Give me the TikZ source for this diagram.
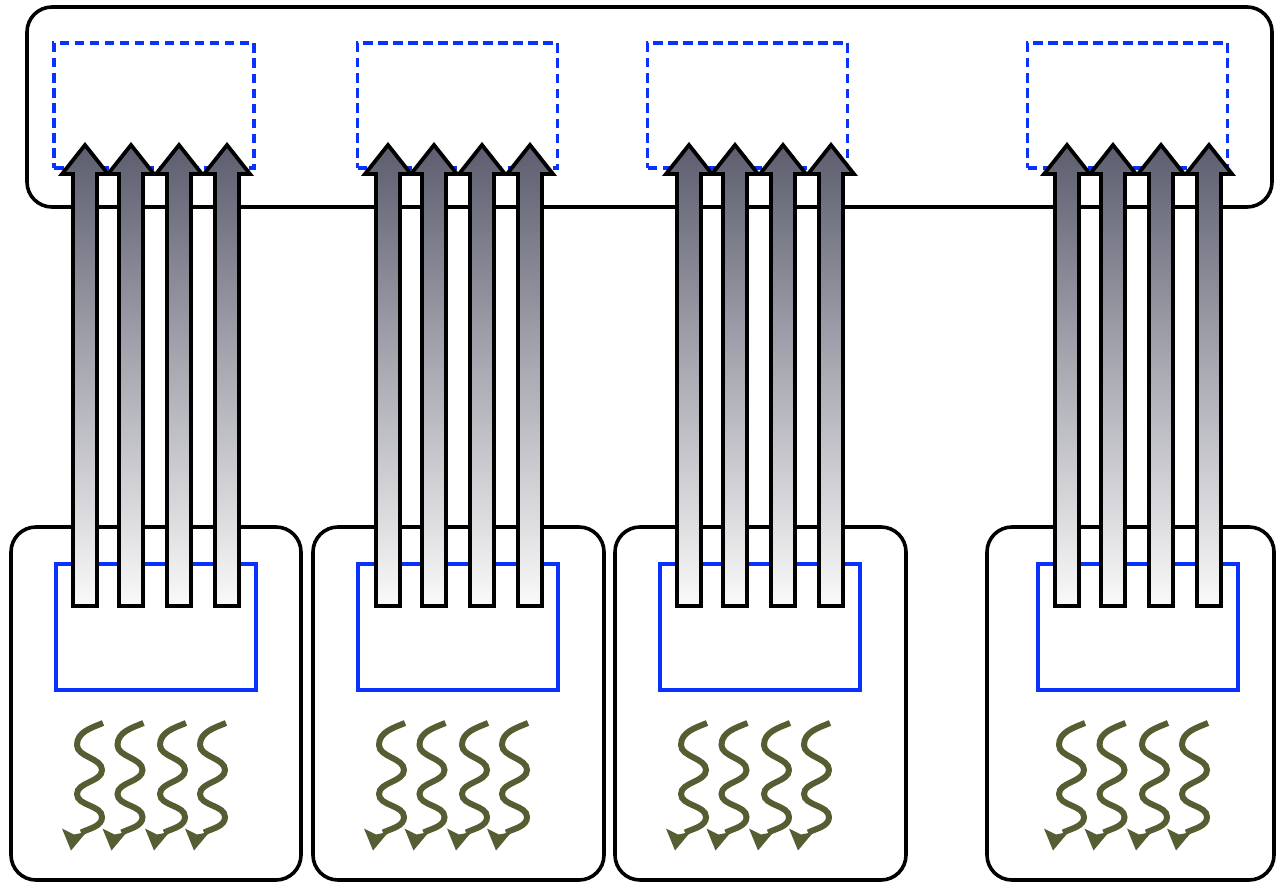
\documentclass[tikz,border=0pt]{standalone}
\definecolor{blueln}{RGB}{10,50,255}
\definecolor{olivel}{RGB}{85,94,50}
\definecolor{arrtop}{RGB}{92,93,110}
\definecolor{arrbot}{RGB}{250,250,250}
\tikzset{
  container/.style={draw=black, line width=3.6pt, rounded corners=25pt, inner sep=0pt, outer sep=0pt},
  dashbox/.style={draw=blueln, line width=3.6pt, dash pattern=on 9.5pt off 5.5pt, inner sep=0pt, outer sep=0pt, minimum width=200pt, minimum height=125pt},
  solidbox/.style={draw=blueln, line width=3.6pt, inner sep=0pt, outer sep=0pt, minimum width=200pt, minimum height=126pt},
  bigarrow/.pic={
    \draw[line width=3.8pt, top color=arrtop, bottom color=arrbot, miter limit=10]
      (-12,606) -- (-12,174) -- (-23,174) -- (0,145) -- (23,174) -- (12,174) -- (12,606) -- cycle;
  },
  squig/.pic={
    \draw[olivel, line width=6pt] (0,0) .. controls (-12,5) and (-26,9) .. (-26,22)
      .. controls (-26,34) and (-1,35) .. (-1,47)
      .. controls (-1,59) and (-26,59) .. (-26,71)
      .. controls (-26,83) and (-1,82) .. (-1,94)
      .. controls (-1,103) and (-12,105) .. (-22,109.5);
    \fill[olivel] (-41,105.5) -- (-32,127.5) -- (-16.5,109) -- (-29,111.5) -- cycle;
  }
}
\begin{document}
\begin{tikzpicture}[x=1pt,y=-1pt, line join=miter]
\useasboundingbox (0,0) rectangle (1276,883);
% top container
\node[container, minimum width=1245pt, minimum height=200pt] (top) at (649.5,107) {};
% dashed target boxes
\node[dashbox] (d1) at (154,105.5) {};
\node[dashbox] (d2) at (457.5,105.5) {};
\node[dashbox] (d3) at (747.5,105.5) {};
\node[dashbox] (d4) at (1127.5,105.5) {};
% bottom containers
\node[container, minimum width=290pt, minimum height=353pt] (b1) at (156,703.5) {};
\node[container, minimum width=291pt, minimum height=353pt] (b2) at (458.5,703.5) {};
\node[container, minimum width=291pt, minimum height=353pt] (b3) at (760.5,703.5) {};
\node[container, minimum width=287pt, minimum height=353pt] (b4) at (1130.5,703.5) {};
% solid blue boxes
\node[solidbox] (s1) at (156,627) {};
\node[solidbox] (s2) at (458,627) {};
\node[solidbox] (s3) at (760,627) {};
\node[solidbox] (s4) at (1138,627) {};
% big arrows
\foreach \g/\gx in {1/85, 2/388, 3/689, 4/1067} {
  \foreach \i/\o in {1/0, 2/46, 3/94, 4/142} {
    \pic (arr\g\i) at (\gx+\o,0) {bigarrow};
  }
}
% squiggly arrows
\foreach \g/\gx in {1/103, 2/405, 3/707, 4/1085} {
  \foreach \i/\o in {1/0, 2/40.5, 3/83, 4/123} {
    \pic (sq\g\i) at (\gx+\o,723) {squig};
  }
}
\end{tikzpicture}
\end{document}
